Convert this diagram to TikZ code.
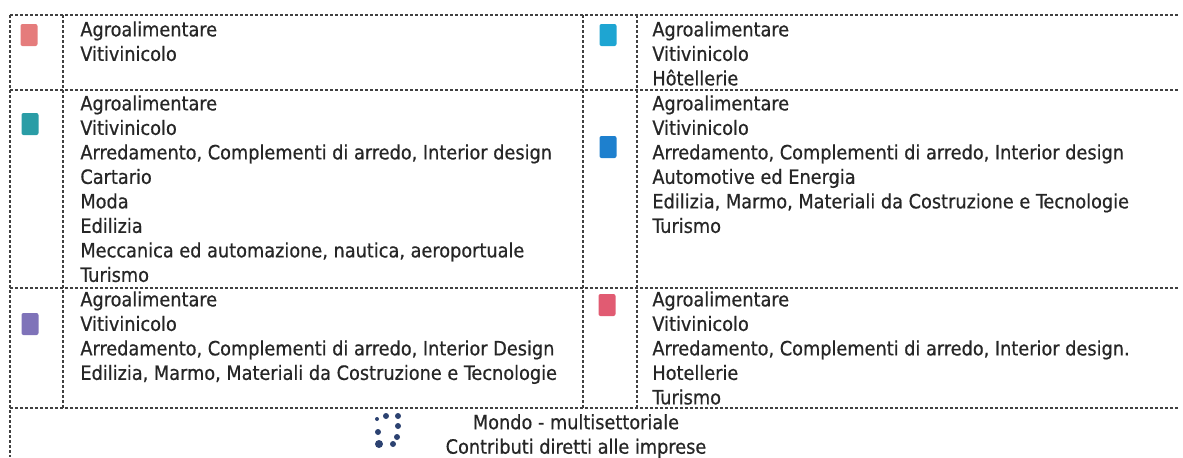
\documentclass[tikz,border=0pt]{standalone}
\usepackage{fontspec}
\setmainfont{DejaVu Sans Condensed}[FakeBold=0.6]
\definecolor{salmon}{HTML}{E57C7C}
\definecolor{teal2}{HTML}{2A9DA6}
\definecolor{lilac}{HTML}{7F73B9}
\definecolor{sky}{HTML}{1EA5D2}
\definecolor{ocean}{HTML}{1E80CE}
\definecolor{rose}{HTML}{E15B72}
\definecolor{navy}{HTML}{2C4271}
\definecolor{ink}{HTML}{262626}
\tikzset{
  grid/.style={draw=black!75, line width=0.55pt, dash pattern=on 1.5pt off 1pt},
  swatch/.style={rectangle, rounded corners=1pt, minimum width=8.5pt, minimum height=11pt, inner sep=0pt},
  sectors/.style={anchor=north west, inner sep=0pt, align=left, text=ink,
    font=\fontsize{9.85pt}{12.25pt}\selectfont}
}
\begin{document}
\begin{tikzpicture}[x=0.5pt, y=-0.5pt]

        \useasboundingbox (0,0) rectangle (1183,457);

        \begin{scope}[grid]
          \draw (10,15) -- (1180,15);
          \draw (10,90) -- (1180,90);
          \draw (10,288) -- (1180,288);
          \draw (10,408) -- (1180,408);
          \draw (10,15) -- (10,457);
          \draw (63,15) -- (63,408);
          \draw (583,15) -- (583,408);
          \draw (637,15) -- (637,408);
        \end{scope}

        \begin{scope}[every node/.style={swatch}]
          \node[fill=salmon] (s1) at (29,35)  {};
          \node[fill=teal2]  (s2) at (30,124) {};
          \node[fill=lilac]  (s3) at (30,324) {};
          \node[fill=sky]    (s4) at (608,35)  {};
          \node[fill=ocean]  (s5) at (608,147) {};
          \node[fill=rose]   (s6) at (607,305) {};
        \end{scope}

        \begin{scope}[every node/.style={sectors}]
          \node (l1) at (80,21) {Agroalimentare\\Vitivinicolo};
          \node (l2) at (80,95) {Agroalimentare\\Vitivinicolo\\
            Arredamento, Complementi di arredo, Interior design\\Cartario\\Moda\\Edilizia\\
            Meccanica ed automazione, nautica, aeroportuale\\Turismo};
          \node (l3) at (80,291) {Agroalimentare\\Vitivinicolo\\
            Arredamento, Complementi di arredo, Interior Design\\
            Edilizia, Marmo, Materiali da Costruzione e Tecnologie};
          \node (l4) at (652,21) {Agroalimentare\\Vitivinicolo\\Hôtellerie};
          \node (l5) at (652,95) {Agroalimentare\\Vitivinicolo\\
            Arredamento, Complementi di arredo, Interior design\\Automotive ed Energia\\
            Edilizia, Marmo, Materiali da Costruzione e Tecnologie\\Turismo};
          \node (l6) at (652,291) {Agroalimentare\\Vitivinicolo\\
            Arredamento, Complementi di arredo, Interior design.\\Hotellerie\\Turismo};
        \end{scope}

        \foreach \px/\py/\r in {377/419/2, 386/416/3, 398/416/3, 378/432/3,
                                398/426/3, 397/437/3, 379/444/4, 393/444/3}
          \fill[navy] (\px,\py) circle (\r);
        \node[inner sep=0pt] (ic) at (388,431) {};

        \node[align=center, inner sep=0pt, text=ink, font=\fontsize{9.85pt}{12.25pt}\selectfont]
          (m) at (576,436) {Mondo - multisettoriale\\Contributi diretti alle imprese};

      \end{tikzpicture}
\end{document}
